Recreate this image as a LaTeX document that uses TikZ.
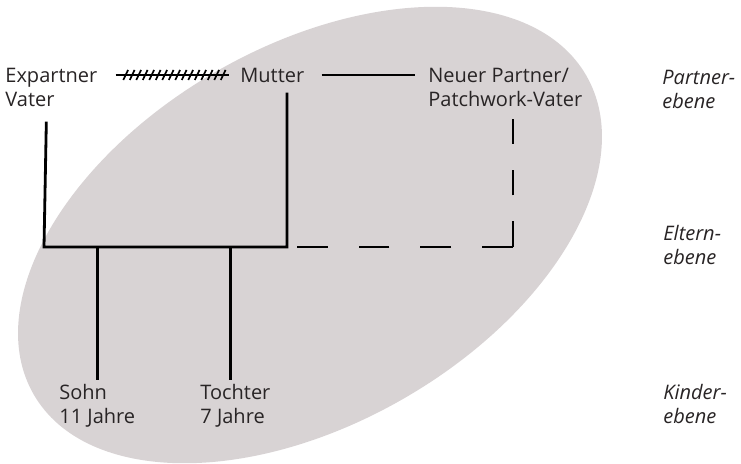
\documentclass[tikz,border=0pt]{standalone}
\usepackage{fontspec}
\setmainfont{Open Sans}
\usepackage{tikz}
\usetikzlibrary{positioning,shapes.geometric,decorations.markings}
\definecolor{famgrey}{RGB}{216,211,212}
\definecolor{txtgrey}{RGB}{40,36,37}

\begin{document}
\begin{tikzpicture}[
  x=0.5pt, y=-0.5pt,
  pers/.style={anchor=base west, align=left, inner sep=0pt,
    font=\fontsize{10}{12}\selectfont, text=txtgrey},
  lvl/.style={pers, font=\fontsize{10}{12}\selectfont\itshape},
  rel/.style={line width=1.4pt, color=black},
  sep/.style={rel, dash pattern=on 15.45pt off 15.45pt},
  sepv/.style={rel, dash pattern=on 12.9pt off 12.9pt},
  hatch/.style={rel, postaction={decorate}, decoration={markings,
    mark=between positions 5pt and 54pt step 3.25pt with
    {\draw[line width=0.85pt] (-1.2pt,-2.5pt) -- (1.2pt,2.5pt);}}}
]
\useasboundingbox (0,0) rectangle (741,463);
\node[ellipse, fill=famgrey, minimum width=319pt, minimum height=188.5pt,
  inner sep=0pt, rotate=30] (fam) at (310,235) {};

\node[pers] (expartner) at (5,106) {Expartner\\Vater};
\node[pers] (mutter) at (240,82) {Mutter};
\node[pers] (neuer) at (428,106) {Neuer Partner/\\Patchwork-Vater};
\node[pers] (sohn) at (59,423) {Sohn\\11 Jahre};
\node[pers] (tochter) at (200,423) {Tochter\\7 Jahre};

\node[lvl] (partner) at (662,108) {Partner-\\ebene};
\node[lvl] (eltern) at (663,264) {Eltern-\\ebene};
\node[lvl] (kinder) at (663,423) {Kinder-\\ebene};

\coordinate (eL) at (44,247);
\coordinate (eR) at (287,247);
\coordinate (eN) at (513,247);

\draw[hatch] ([xshift=9pt]expartner.east |- mutter.west) -- ([xshift=-5.5pt]mutter.west);
\draw[rel] ([xshift=8.5pt]mutter.east) -- ([xshift=-6.5pt]neuer.west |- mutter.east);
\draw[rel] ([xshift=-2.5pt,yshift=-7.5pt]expartner.south) -- (eL) -- (eR)
  -- ([yshift=-5pt]mutter.south -| eR);
\draw[rel] (sohn.north |- eL) -- ([yshift=1.5pt]sohn.north);
\draw[rel] ([xshift=-2.5pt]tochter.north |- eL) -- ([xshift=-2.5pt,yshift=1.5pt]tochter.north);
\draw[sep] (eN) -- ([xshift=5pt]eR);
\draw[sepv] (eN) -- ([yshift=-6pt]neuer.south -| eN);
\end{tikzpicture}
\end{document}
